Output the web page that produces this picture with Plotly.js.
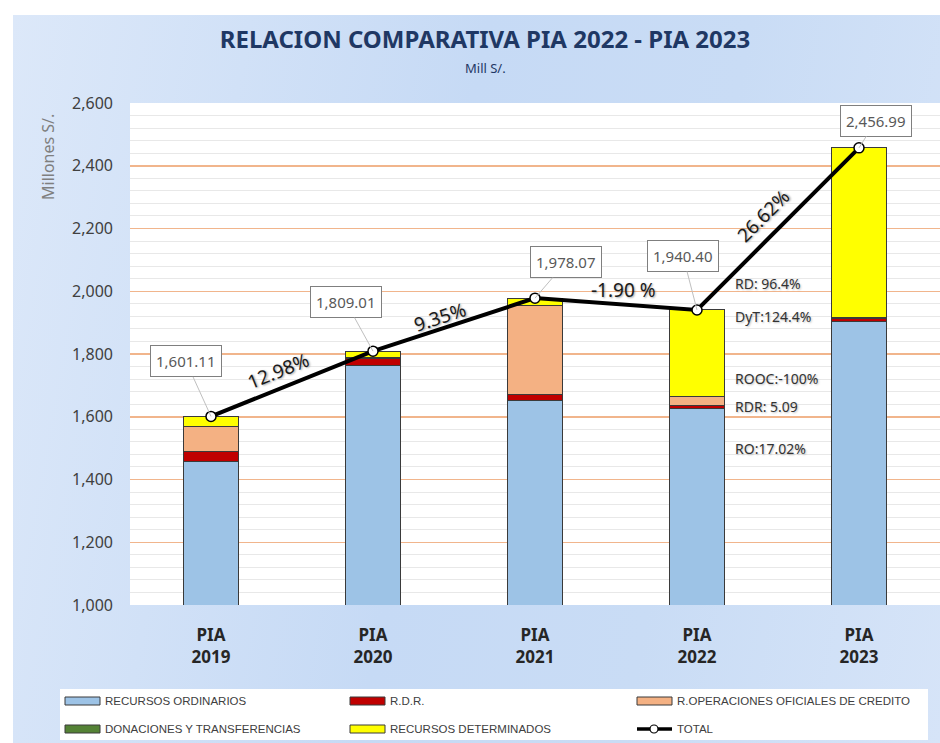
<!DOCTYPE html>
<html>
<head>
<meta charset="utf-8">
<script src="https://cdn.plot.ly/plotly-3.0.1.min.js"></script>
<style>
  html, body { margin: 0; padding: 0; background: #ffffff; }
  #bg { position: absolute; left: 13px; top: 15px; width: 927px; height: 728px;
        background: linear-gradient(100deg, #dce8f9 0%, #c6daf5 45%, #c9dcf5 70%, #d6e4f8 100%); }
  #chart { position: absolute; left: 0; top: 0; width: 940px; height: 743px; }
</style>
</head>
<body>
<div id="bg"></div>
<div id="chart"></div>
<script>
// ---- Data (Millones S/.) ----
const categories = ["PIA 2019", "PIA 2020", "PIA 2021", "PIA 2022", "PIA 2023"];
const tickLabels = ["<b>PIA</b><br><b>2019</b>", "<b>PIA</b><br><b>2020</b>", "<b>PIA</b><br><b>2021</b>", "<b>PIA</b><br><b>2022</b>", "<b>PIA</b><br><b>2023</b>"];
const recursosOrdinarios   = [1458.0, 1762.0, 1651.0, 1626.0, 1902.7];
const rdr                  = [31.0, 25.0, 19.0, 11.0, 11.6];
const operacionesCredito   = [80.0, 0.0, 284.0, 28.0, 0.0];
const donaciones           = [0.5, 0.5, 0.5, 0.9, 2.0];
const recursosDeterminados = [31.6, 21.5, 23.6, 274.5, 540.7];
const total                = [1601.11, 1809.01, 1978.07, 1940.40, 2456.99];
const totalLabels          = ["1,601.11", "1,809.01", "1,978.07", "1,940.40", "2,456.99"];
const growthLabels         = ["12.98%", "9.35%", "-1.90 %", "26.62%"];
const variationLabels      = ["RD: 96.4%", "DyT:124.4%", "ROOC:-100%", "RDR: 5.09", "RO:17.02%"];
const variationY           = [2026, 1921, 1723, 1634, 1500];
const seriesNames = ["RECURSOS ORDINARIOS", "R.D.R.", "R.OPERACIONES OFICIALES DE CREDITO",
                     "DONACIONES Y TRANSFERENCIAS", "RECURSOS DETERMINADOS", "TOTAL"];

// ---- Styles ----
const FONT = "Noto Sans, Open Sans, sans-serif";
const LEGFONT = "Liberation Sans, Arial, sans-serif";
const seriesColors = ["#9DC3E6", "#C00000", "#F4B183", "#548235", "#FFFF00"];
const barLine = { color: "#3a3a3a", width: 1 };

const xIdx = categories.map((_, i) => i);
const seriesValues = [recursosOrdinarios, rdr, operacionesCredito, donaciones, recursosDeterminados];

const traces = seriesValues.map((vals, k) => ({
  type: "bar", name: seriesNames[k], x: xIdx, y: vals,
  marker: { color: seriesColors[k], line: barLine }, hoverinfo: "y+name"
}));
traces.push({
  type: "scatter", mode: "lines+markers", name: "TOTAL", x: xIdx, y: total,
  line: { color: "#000000", width: 4 },
  marker: { symbol: "circle", size: 10, color: "#ffffff", line: { color: "#000000", width: 1.5 } }
});

// plot geometry (pixels)
const L = 130, T = 103, plotW = 810, plotH = 502, yMin = 1000, yMax = 2600;
const pxPerCat = plotW / categories.length;
const pxPerUnit = plotH / (yMax - yMin);
const px = (x) => (x - L) / plotW;           // page px -> paper x
const py = (y) => (T + plotH - y) / plotH;   // page px -> paper y

const annotations = [];
const shapes = [];

// total value boxes
const boxOffsets = [[-25, -55], [-27, -49], [31, -36], [-14, -54], [17, -27]];
total.forEach((v, i) => {
  annotations.push({
    x: i, y: v, xref: "x", yref: "y", text: totalLabels[i],
    showarrow: true, arrowhead: 0, arrowwidth: 1, arrowcolor: "#bfbfbf",
    ax: boxOffsets[i][0], ay: boxOffsets[i][1],
    bgcolor: "#ffffff", bordercolor: "#7f7f7f", borderwidth: 1, borderpad: 5,
    font: { family: FONT, size: 15, color: "#595959" }
  });
});

// growth labels along the line
const growthShift = [[-14, 13], [-14, 8], [7, 14], [-15, 13]];
const growthAngleOverride = [null, null, 0, null];
growthLabels.forEach((t, i) => {
  const dy = (total[i + 1] - total[i]) * pxPerUnit;
  let ang = -Math.atan2(dy, pxPerCat) * 180 / Math.PI;
  if (growthAngleOverride[i] !== null) ang = growthAngleOverride[i];
  annotations.push({
    x: i + 0.5, y: (total[i] + total[i + 1]) / 2, xref: "x", yref: "y",
    text: t, showarrow: false, textangle: ang,
    xshift: growthShift[i][0], yshift: growthShift[i][1],
    font: { family: FONT, size: 19, color: "#1a1a1a", shadow: "1px 1px 2px rgba(0,0,0,0.35)" }
  });
});

// variation notes next to PIA 2022
variationLabels.forEach((t, i) => {
  annotations.push({
    x: 3.22, y: variationY[i], xref: "x", yref: "y", xanchor: "left",
    text: t, showarrow: false,
    font: { family: FONT, size: 14, color: "#333333", shadow: "1px 1px 2px rgba(0,0,0,0.25)" }
  });
});

// subtitle
annotations.push({
  x: px(485), y: py(68), xref: "paper", yref: "paper", xanchor: "center", yanchor: "middle",
  text: "Mill S/.", showarrow: false, font: { family: FONT, size: 13, color: "#1F3864" }
});
// y axis title (near the top, as in the original)
annotations.push({
  x: px(48), y: py(157), xref: "paper", yref: "paper", xanchor: "center", yanchor: "middle",
  text: "Millones S/.", textangle: -90, showarrow: false,
  font: { family: FONT, size: 16, color: "#7f7f7f" }
});

// ---- legend (drawn as a box with swatches) ----
shapes.push({ type: "rect", xref: "paper", yref: "paper", x0: px(60), x1: px(928), y0: py(689), y1: py(740),
              fillcolor: "#ffffff", line: { width: 0 }, layer: "below" });
const legCols = [65, 350, 637], legRows = [701, 729];
seriesNames.forEach((name, k) => {
  const cx = legCols[k % 3], cy = legRows[Math.floor(k / 3)];
  if (k < 5) {
    shapes.push({ type: "rect", xref: "paper", yref: "paper", x0: px(cx), x1: px(cx + 35),
                  y0: py(cy + 4), y1: py(cy - 4), fillcolor: seriesColors[k],
                  line: { color: "#3a3a3a", width: 1 } });
  } else {
    shapes.push({ type: "line", xref: "paper", yref: "paper", x0: px(cx), x1: px(cx + 35),
                  y0: py(cy), y1: py(cy), line: { color: "#000000", width: 3.5 } });
    shapes.push({ type: "circle", xref: "paper", yref: "paper", x0: px(cx + 13), x1: px(cx + 21),
                  y0: py(cy + 4), y1: py(cy - 4), fillcolor: "#ffffff", line: { color: "#000000", width: 1.2 } });
  }
  annotations.push({ x: px(cx + 38), y: py(cy), xref: "paper", yref: "paper", xanchor: "left", yanchor: "middle",
                     text: name, showarrow: false, font: { family: LEGFONT, size: 11.5, color: "#404040" } });
});

const layout = {
  width: 940, height: 743,
  margin: { l: L, r: 0, t: T, b: 743 - T - plotH },
  paper_bgcolor: "rgba(0,0,0,0)",
  plot_bgcolor: "#ffffff",
  barmode: "stack",
  bargap: 0.66,
  showlegend: false,
  title: {
    text: "<b>RELACION COMPARATIVA PIA 2022 - PIA 2023</b>",
    xref: "container", yref: "container", x: 485 / 940, y: 1 - 40 / 743,
    xanchor: "center", yanchor: "middle",
    font: { family: FONT, size: 24, color: "#1F3864" }
  },
  xaxis: {
    range: [-0.5, 4.5], tickmode: "array", tickvals: xIdx, ticktext: tickLabels,
    showgrid: false, zeroline: false, showline: false, ticks: "",
    ticklabelstandoff: 18,
    tickfont: { family: FONT, size: 17, color: "#262626" }
  },
  yaxis: {
    range: [yMin, yMax], dtick: 200, tickformat: ",", showline: false, zeroline: false,
    ticks: "", ticklabelstandoff: 16,
    gridcolor: "#F1B58C", gridwidth: 1.5,
    minor: { dtick: 40, showgrid: true, gridcolor: "#e8e8e8", gridwidth: 1 },
    tickfont: { family: FONT, size: 16, color: "#404040" }
  },
  shapes: shapes,
  annotations: annotations
};

Plotly.newPlot("chart", traces, layout, { displayModeBar: false, staticPlot: true });
</script>
</body>
</html>
